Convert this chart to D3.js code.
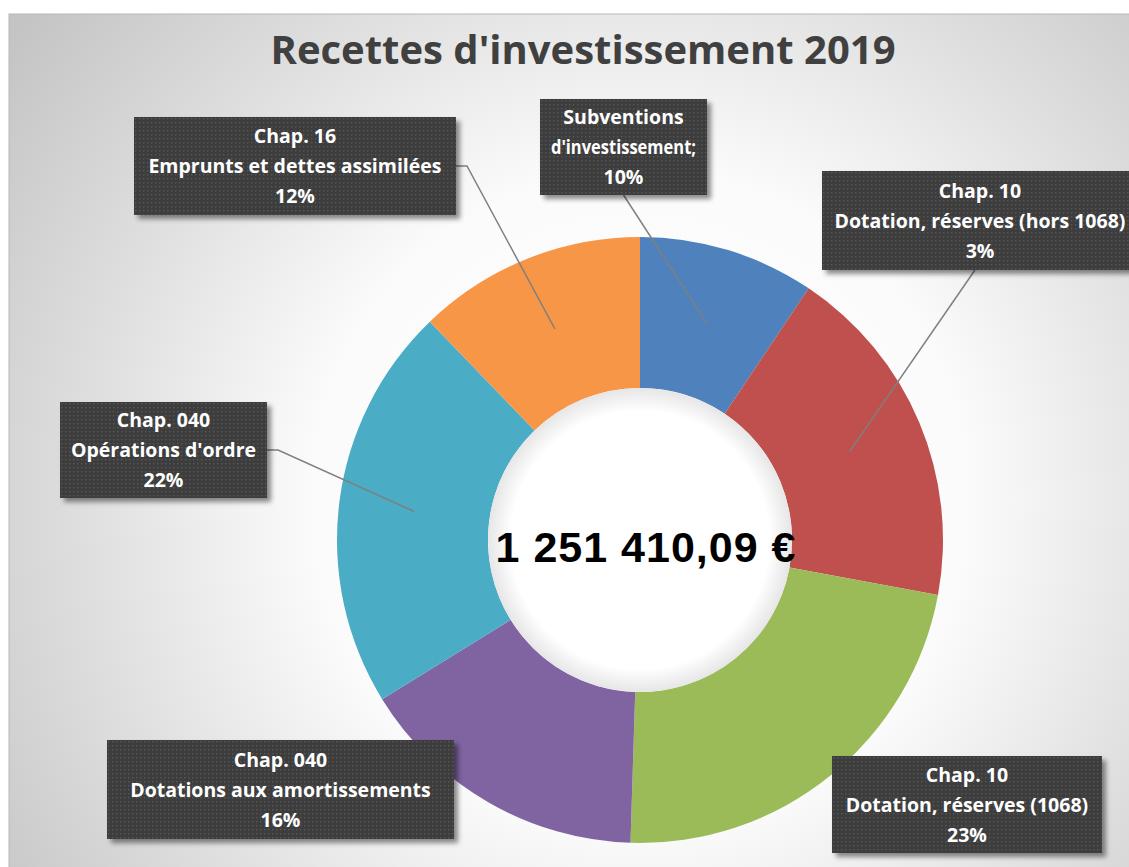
<!DOCTYPE html>
<html>
<head>
<meta charset="utf-8">
<script src="https://cdn.jsdelivr.net/npm/d3@7"></script>
<style>
  html, body { margin: 0; padding: 0; background: #ffffff; overflow: hidden; }
  svg { display: block; }
</style>
</head>
<body>
<div class="donut-chart"></div>
<script>
// Recettes d'investissement 2019 - donut chart

// slice order, clockwise from the top
const categories = [
    'Subventions d\'investissement',
    'Chap. 10 Dotation, réserves (hors 1068)',
    'Chap. 10 Dotation, réserves (1068)',
    'Chap. 040 Dotations aux amortissements',
    'Chap. 040 Opérations d\'ordre',
    'Chap. 16 Emprunts et dettes assimilées'
];
// slice sizes (share of the ring, %)
const values = [9.4, 18.5, 22.6, 15.7, 21.6, 12.2];
// label lines as printed in the chart
const labelLines = [
    ['Subventions', 'd\'investissement;', '10%'],
    ['Chap. 10', 'Dotation, réserves (hors 1068)', '3%'],
    ['Chap. 10', 'Dotation, réserves (1068)', '23%'],
    ['Chap. 040', 'Dotations aux amortissements', '16%'],
    ['Chap. 040', 'Opérations d\'ordre', '22%'],
    ['Chap. 16', 'Emprunts et dettes assimilées', '12%']
];
const colors = ['#4f81bd', '#c0504d', '#9bbb59', '#8064a2', '#4bacc6', '#f79646'];
const title = 'Recettes d\'investissement 2019';
const total = '1 251 410,09 €';

document.addEventListener('DOMContentLoaded', function() {
    initDonutChart();
});

function initDonutChart() {
    const width = 1129;
    const height = 867;
    const cx = 640, cy = 540;
    const outerR = 303, innerR = 152;

    // label box placement (x, y, w, h) and leader style
    const boxes = [
        { x: 540, y: 99, w: 167, h: 96, leader: 'bottom' },
        { x: 822, y: 171, w: 318, h: 99, leader: 'bottom' },
        { x: 832, y: 756, w: 270, h: 97, leader: null },
        { x: 107, y: 740, w: 347, h: 99, leader: null },
        { x: 60, y: 402, w: 207, h: 96, leader: 'right' },
        { x: 134, y: 117, w: 322, h: 98, leader: 'right' }
    ];

    const svg = d3.select('.donut-chart')
        .append('svg')
        .attr('width', width)
        .attr('height', height);

    const defs = svg.append('defs');

    // background radial shading
    const bg = defs.append('radialGradient')
        .attr('id', 'bg-grad')
        .attr('gradientUnits', 'userSpaceOnUse')
        .attr('cx', cx).attr('cy', cy - 40).attr('r', 780);
    bg.append('stop').attr('offset', 0).attr('stop-color', '#ffffff');
    bg.append('stop').attr('offset', 0.42).attr('stop-color', '#fbfbfb');
    bg.append('stop').attr('offset', 0.72).attr('stop-color', '#dedede');
    bg.append('stop').attr('offset', 1).attr('stop-color', '#c4c4c4');

    // hole shading (circle is drawn in the ring group, so centre at 0,0)
    const hole = defs.append('radialGradient')
        .attr('id', 'hole-grad')
        .attr('gradientUnits', 'userSpaceOnUse')
        .attr('cx', 0).attr('cy', 0).attr('r', innerR);
    hole.append('stop').attr('offset', 0).attr('stop-color', '#ffffff');
    hole.append('stop').attr('offset', 0.85).attr('stop-color', '#ffffff');
    hole.append('stop').attr('offset', 1).attr('stop-color', '#e6e6e6');

    // dotted dark fill for the label boxes
    const pat = defs.append('pattern')
        .attr('id', 'dots')
        .attr('patternUnits', 'userSpaceOnUse')
        .attr('width', 4).attr('height', 4);
    pat.append('rect').attr('width', 4).attr('height', 4).attr('fill', '#3d3d3d');
    pat.append('rect').attr('x', 1).attr('y', 1).attr('width', 1.4).attr('height', 1.4).attr('fill', '#575757');

    const shadow = defs.append('filter')
        .attr('id', 'shadow')
        .attr('x', '-10%').attr('y', '-10%')
        .attr('width', '130%').attr('height', '140%');
    shadow.append('feDropShadow')
        .attr('dx', 4).attr('dy', 4)
        .attr('stdDeviation', 2.5)
        .attr('flood-color', '#000')
        .attr('flood-opacity', 0.45);

    // chart area
    svg.append('rect')
        .attr('x', 9).attr('y', 14)
        .attr('width', width).attr('height', height)
        .attr('fill', 'url(#bg-grad)')
        .attr('stroke', '#b8b8b8')
        .attr('stroke-width', 1);

    // title
    svg.append('text')
        .attr('x', 583)
        .attr('y', 64)
        .attr('text-anchor', 'middle')
        .style('font-family', '"Open Sans", sans-serif')
        .style('font-size', '40px')
        .style('font-weight', 'bold')
        .style('fill', '#404040')
        .text(title);

    const pie = d3.pie()
        .sort(null)
        .value(d => d);

    const arcs = pie(values);

    const arc = d3.arc()
        .innerRadius(innerR)
        .outerRadius(outerR);

    const ring = svg.append('g')
        .attr('transform', `translate(${cx},${cy})`);

    ring.selectAll('path')
        .data(arcs)
        .enter()
        .append('path')
        .attr('d', arc)
        .attr('fill', (d, i) => colors[i]);

    ring.append('circle')
        .attr('r', innerR)
        .attr('fill', 'url(#hole-grad)');

    // leader lines
    arcs.forEach((d, i) => {
        const b = boxes[i];
        if (!b.leader) return;
        const c = arc.centroid(d);
        const end = [cx + c[0], cy + c[1]];
        let pts;
        if (b.leader === 'right') {
            const y = b.y + b.h / 2;
            pts = [[b.x + b.w, y], [b.x + b.w + 11, y], end];
        } else {
            pts = [[Math.min(b.x + b.w / 2, 975), b.y + b.h], end];
        }
        svg.append('path')
            .attr('d', d3.line()(pts))
            .attr('fill', 'none')
            .attr('stroke', '#7f7f7f')
            .attr('stroke-width', 1.5);
    });

    // label boxes
    const labels = svg.selectAll('.label')
        .data(arcs)
        .enter()
        .append('g')
        .attr('class', 'label')
        .attr('transform', (d, i) => `translate(${boxes[i].x},${boxes[i].y})`);

    labels.append('rect')
        .attr('width', (d, i) => boxes[i].w)
        .attr('height', (d, i) => boxes[i].h)
        .attr('fill', 'url(#dots)')
        .attr('filter', 'url(#shadow)');

    labels.each(function(d, i) {
        const g = d3.select(this);
        const b = boxes[i];
        const lines = labelLines[i];
        const lineHeight = 30;
        const top = b.h / 2 - lineHeight + 7;
        lines.forEach((line, k) => {
            const t = g.append('text')
                .attr('x', (i === 1 ? 158 : b.w / 2))
                .attr('y', top + k * lineHeight)
                .attr('text-anchor', 'middle')
                .style('font-family', '"Open Sans", sans-serif')
                .style('font-size', '19.5px')
                .style('font-weight', 'bold')
                .style('fill', '#ffffff')
                .text(line);
            // keep the line inside a narrow box
            const maxW = b.w - 22;
            if (i !== 1 && t.node().getComputedTextLength() > maxW) {
                t.attr('textLength', maxW).attr('lengthAdjust', 'spacingAndGlyphs');
            }
        });
    });

    // total in the hole
    svg.append('text')
        .attr('x', 646)
        .attr('y', 562)
        .attr('text-anchor', 'middle')
        .style('font-family', '"Liberation Sans", sans-serif')
        .style('font-size', '43px')
        .style('font-weight', 'bold')
        .style('letter-spacing', '1px')
        .style('fill', '#000000')
        .text(total);
}
</script>
</body>
</html>
